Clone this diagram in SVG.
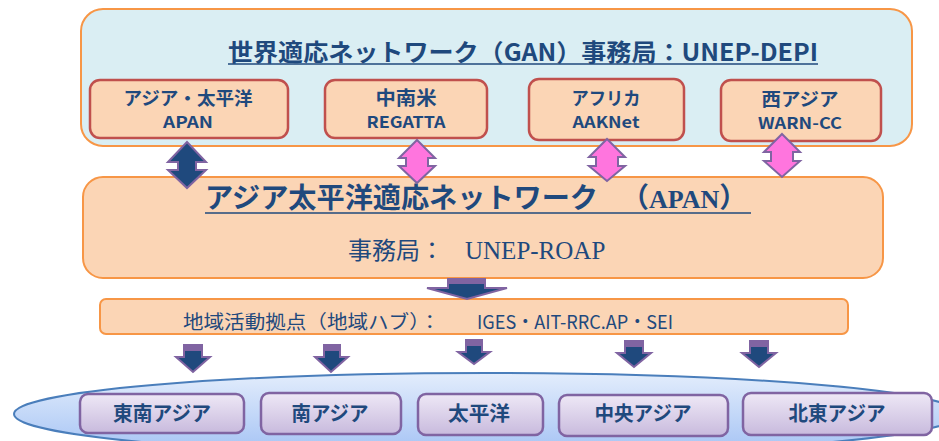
<svg xmlns="http://www.w3.org/2000/svg" width="939" height="441" viewBox="0 0 939 441">
<defs>
<linearGradient id="gEll" x1="0" y1="0" x2="0" y2="1">
<stop offset="0" stop-color="#E3EDFC"/>
<stop offset="1" stop-color="#A3C2F4"/>
</linearGradient>
<linearGradient id="gReg" x1="0" y1="0" x2="0" y2="1">
<stop offset="0" stop-color="#EEE8F6"/>
<stop offset="1" stop-color="#C8BADD"/>
</linearGradient>
</defs>
<style>
.t{font-family:"Noto Sans CJK JP","Noto Sans",sans-serif;fill:#1F497D}
.b{font-weight:bold}
.c{text-anchor:middle}
.serif{font-family:"Liberation Serif","Noto Sans CJK JP",serif}
.outer{fill:#DAEEF3;stroke:#F79646;stroke-width:2}
.net{fill:#FBD5B5;stroke:#C0504D;stroke-width:2.5}
.peach{fill:#FBD5B5;stroke:#F79646;stroke-width:2}
.reg{fill:url(#gReg);stroke:#8064A2;stroke-width:2.5}
.dark{fill:#1F497D;stroke:#8064A2;stroke-width:2;stroke-linejoin:miter}
.pink{fill:#FF75DE;stroke:#8064A2;stroke-width:2;stroke-linejoin:miter}
.cap{fill:#8064A2}
.ul{stroke:#1F497D;stroke-width:1.5}
</style>

<g id="region-band">
<ellipse cx="487" cy="414" rx="473" ry="41" fill="url(#gEll)" stroke="#4A7EBB" stroke-width="2"/>
</g>

<g id="gan">
<rect class="outer" x="81" y="9" width="831" height="137" rx="22"/>
<text class="t b" x="228" y="61" font-size="24" textLength="590" lengthAdjust="spacingAndGlyphs">世界適応ネットワーク（GAN）事務局：UNEP-DEPI</text>
<line class="ul" x1="228" y1="64" x2="818" y2="64"/>
</g>

<g id="net-apan">
<rect class="net" x="90" y="80" width="198" height="58" rx="10"/>
<text class="t b c" x="188" y="105" font-size="18" textLength="129" lengthAdjust="spacingAndGlyphs">アジア・太平洋</text>
<text class="t b c" x="188" y="128" font-size="16" textLength="50" lengthAdjust="spacingAndGlyphs">APAN</text>
</g>
<g id="net-regatta">
<rect class="net" x="325" y="80" width="162" height="58" rx="10"/>
<text class="t b c" x="406" y="105" font-size="19" textLength="61" lengthAdjust="spacingAndGlyphs">中南米</text>
<text class="t b c" x="406" y="128" font-size="16" textLength="79" lengthAdjust="spacingAndGlyphs">REGATTA</text>
</g>
<g id="net-aaknet">
<rect class="net" x="529" y="79" width="155" height="61" rx="10"/>
<text class="t b c" x="606" y="105" font-size="18" textLength="69" lengthAdjust="spacingAndGlyphs">アフリカ</text>
<text class="t b c" x="606" y="128" font-size="16" textLength="67" lengthAdjust="spacingAndGlyphs">AAKNet</text>
</g>
<g id="net-warncc">
<rect class="net" x="721" y="80" width="160" height="61" rx="10"/>
<text class="t b c" x="800" y="106" font-size="18" textLength="77" lengthAdjust="spacingAndGlyphs">西アジア</text>
<text class="t b c" x="800" y="129" font-size="16" textLength="84" lengthAdjust="spacingAndGlyphs">WARN-CC</text>
</g>

<g id="apan">
<rect class="peach" x="83" y="177" width="800" height="101" rx="20"/>
<text class="t b" x="205" y="208" font-size="28"><tspan textLength="393" lengthAdjust="spacingAndGlyphs">アジア太平洋適応ネットワーク</tspan><tspan x="621">（</tspan><tspan class="serif" font-size="26">APAN</tspan><tspan>）</tspan></text>
<line class="ul" x1="205" y1="213" x2="751" y2="213"/>
<text class="t" x="348" y="259" font-size="24">事務局：<tspan class="serif" x="465" font-size="25">UNEP-ROAP</tspan></text>
</g>

<g id="hub">
<rect class="peach" x="100" y="299" width="748" height="35" rx="6"/>
<text class="t" x="183" y="329" font-size="19" textLength="257" lengthAdjust="spacingAndGlyphs">地域活動拠点（地域ハブ）：</text>
<text class="t" x="477" y="329" font-size="19" textLength="196" lengthAdjust="spacingAndGlyphs">IGES・AIT-RRC.AP・SEI</text>
</g>

<g id="reg-se">
<rect class="reg" x="80" y="394" width="164" height="39" rx="8"/>
<text class="t b c" x="162" y="421" font-size="20" textLength="98" lengthAdjust="spacingAndGlyphs">東南アジア</text>
</g>
<g id="reg-s">
<rect class="reg" x="261" y="393" width="140" height="41" rx="8"/>
<text class="t b c" x="330" y="421" font-size="20" textLength="77" lengthAdjust="spacingAndGlyphs">南アジア</text>
</g>
<g id="reg-p">
<rect class="reg" x="418" y="394" width="125" height="41" rx="8"/>
<text class="t b c" x="479" y="421" font-size="20" textLength="62" lengthAdjust="spacingAndGlyphs">太平洋</text>
</g>
<g id="reg-c">
<rect class="reg" x="559" y="395" width="169" height="41" rx="8"/>
<text class="t b c" x="643" y="421" font-size="20" textLength="97" lengthAdjust="spacingAndGlyphs">中央アジア</text>
</g>
<g id="reg-ne">
<rect class="reg" x="743" y="393" width="189" height="42" rx="8"/>
<text class="t b c" x="837" y="421" font-size="20" textLength="97" lengthAdjust="spacingAndGlyphs">北東アジア</text>
</g>

<g id="connectors">
<polygon class="dark" points="187,142 206,162 196,162 196,170 206,170 187,188 168,170 178,170 178,162 168,162"/>
<polygon class="pink" points="417,140 435,158 428,158 428,166 435,166 417,183 399,166 406,166 406,158 399,158"/>
<polygon class="pink" points="607,139 625,157 618,157 618,166 625,166 607,181 589,166 596,166 596,157 589,157"/>
<polygon class="pink" points="782,134 800,152 793,152 793,161 800,161 782,177 764,161 771,161 771,152 764,152"/>

<polygon class="dark" points="448,279 485,279 485,288 507,288 467,299 427,288 448,288"/>
<rect class="cap" x="448" y="279" width="37" height="5"/>

<polygon class="dark" points="184,345 202,345 202,357 210,357 193,372 176,357 184,357"/>
<rect class="cap" x="184" y="345" width="18" height="6"/>
<polygon class="dark" points="324,345 340,345 340,357 348,357 331,372 315,357 324,357"/>
<rect class="cap" x="324" y="345" width="16" height="6"/>
<polygon class="dark" points="466,340 482,340 482,352 490,352 474,364 458,352 466,352"/>
<rect class="cap" x="466" y="340" width="16" height="6"/>
<polygon class="dark" points="625,341 643,341 643,353 651,353 634,367 617,353 625,353"/>
<rect class="cap" x="625" y="341" width="18" height="6"/>
<polygon class="dark" points="750,341 768,341 768,353 776,353 759,367 742,353 750,353"/>
<rect class="cap" x="750" y="341" width="18" height="6"/>
</g>
</svg>
